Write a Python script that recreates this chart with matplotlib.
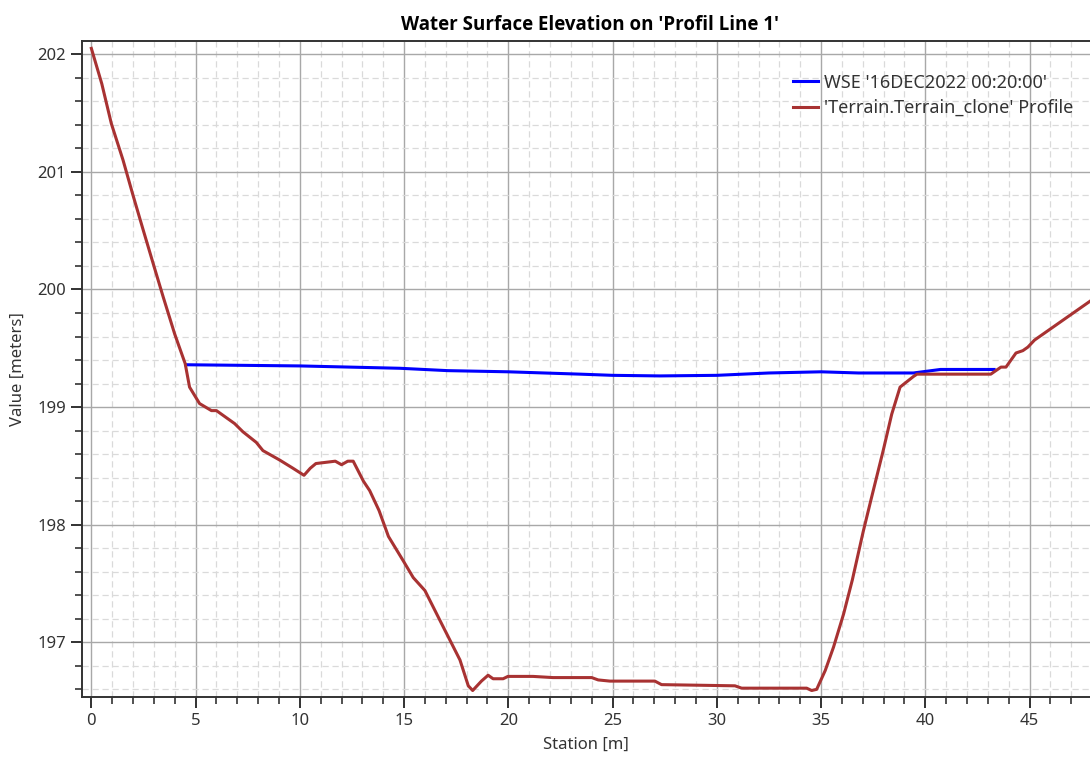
import numpy as np
import matplotlib
matplotlib.use('Agg')
import matplotlib.pyplot as plt
from matplotlib.ticker import MultipleLocator

# Terrain profile along the profile line (station [m], elevation [m])
terrain_station = [0.0, 0.5, 0.96, 1.52, 2.0, 2.48, 3.0, 3.44, 4.0, 4.5, 4.71, 5.19,
                   5.76, 6.0, 6.87, 7.27, 7.91, 8.23, 9.03, 9.67, 10.2, 10.5, 10.77,
                   11.7, 12.0, 12.3, 12.56, 13.05, 13.35, 13.8, 14.25, 14.97, 15.44,
                   16.0, 16.88, 17.68, 18.08, 18.29, 18.71, 19.03, 19.27, 19.75, 19.98,
                   21.18, 22.14, 24.0, 24.31, 24.87, 27.03, 27.35, 30.87, 31.19, 34.31,
                   34.55, 34.79, 35.2, 35.6, 36.08, 36.5, 37.02, 37.42, 37.98, 38.39,
                   38.79, 39.43, 39.6, 43.14, 43.63, 43.87, 44.35, 44.68, 44.92, 45.24,
                   47.9]
terrain_elev = [202.05, 201.75, 201.41, 201.10, 200.80, 200.51, 200.20, 199.94, 199.62,
                199.37, 199.17, 199.03, 198.97, 198.97, 198.86, 198.79, 198.70, 198.63,
                198.55, 198.48, 198.42, 198.48, 198.52, 198.54, 198.51, 198.54, 198.54,
                198.37, 198.29, 198.12, 197.90, 197.69, 197.55, 197.44, 197.13, 196.85,
                196.63, 196.59, 196.67, 196.72, 196.69, 196.69, 196.71, 196.71, 196.70,
                196.70, 196.68, 196.67, 196.67, 196.64, 196.63, 196.61, 196.61, 196.59,
                196.60, 196.76, 196.96, 197.24, 197.53, 197.94, 198.23, 198.63, 198.94,
                199.17, 199.26, 199.28, 199.28, 199.34, 199.34, 199.46, 199.48, 199.51,
                199.57, 199.90]

# Water surface elevation at 16DEC2022 00:20:00
wse_station = [4.52, 10.0, 14.8, 17.08, 20.0, 23.45, 25.0, 27.27, 30.0, 32.5, 35.0,
               36.8, 39.43, 40.73, 43.30]
wse_elev = [199.36, 199.35, 199.33, 199.31, 199.30, 199.28, 199.27, 199.265, 199.27,
            199.29, 199.30, 199.29, 199.29, 199.32, 199.32]

plt.rcParams['font.family'] = ['Noto Sans', 'DejaVu Sans']

fig = plt.figure(figsize=(10.9, 7.66), dpi=100)
ax = fig.add_axes([0.0752, 0.0901, 0.9248, 0.8564])

ax.plot(wse_station, wse_elev, color='#0000ff', lw=2.2,
        label="WSE '16DEC2022 00:20:00'", zorder=3)
ax.plot(terrain_station, terrain_elev, color='#a83232', lw=2.2,
        label="'Terrain.Terrain_clone' Profile", zorder=3)

ax.set_xlim(-0.45, 47.9)
ax.set_ylim(196.535, 202.113)

ax.xaxis.set_major_locator(MultipleLocator(5))
ax.xaxis.set_minor_locator(MultipleLocator(1))
ax.yaxis.set_major_locator(MultipleLocator(1))
ax.yaxis.set_minor_locator(MultipleLocator(0.2))

ax.grid(which='major', color='#a8a8a8', lw=1.0, ls='-')
ax.grid(which='minor', color='#dadada', lw=0.9, ls=(0, (5, 3)))
ax.set_axisbelow(True)

ax.tick_params(which='major', direction='out', length=8, width=1.3,
               color='#222222', labelsize=12, labelcolor='#333333')
ax.tick_params(which='minor', direction='out', length=5, width=1.1, color='#222222')

for side in ('left', 'bottom', 'top'):
    ax.spines[side].set_color('#333333')
    ax.spines[side].set_linewidth(1.4)
ax.spines['right'].set_visible(False)

ax.set_title("Water Surface Elevation on 'Profil Line 1'", fontsize=13.5,
             fontweight='bold', family=['Open Sans', 'DejaVu Sans'], pad=8, x=0.504)
ax.set_xlabel('Station [m]', fontsize=12, color='#333333', labelpad=6)
ax.set_ylabel('Value [meters]', fontsize=12, color='#333333', labelpad=8)

ax.legend(loc='upper right', bbox_to_anchor=(1.0, 0.975), frameon=False,
          fontsize=13, handlelength=1.4, handletextpad=0.35, labelspacing=0.4,
          labelcolor='#333333')

fig.savefig('out.png', dpi=100)
